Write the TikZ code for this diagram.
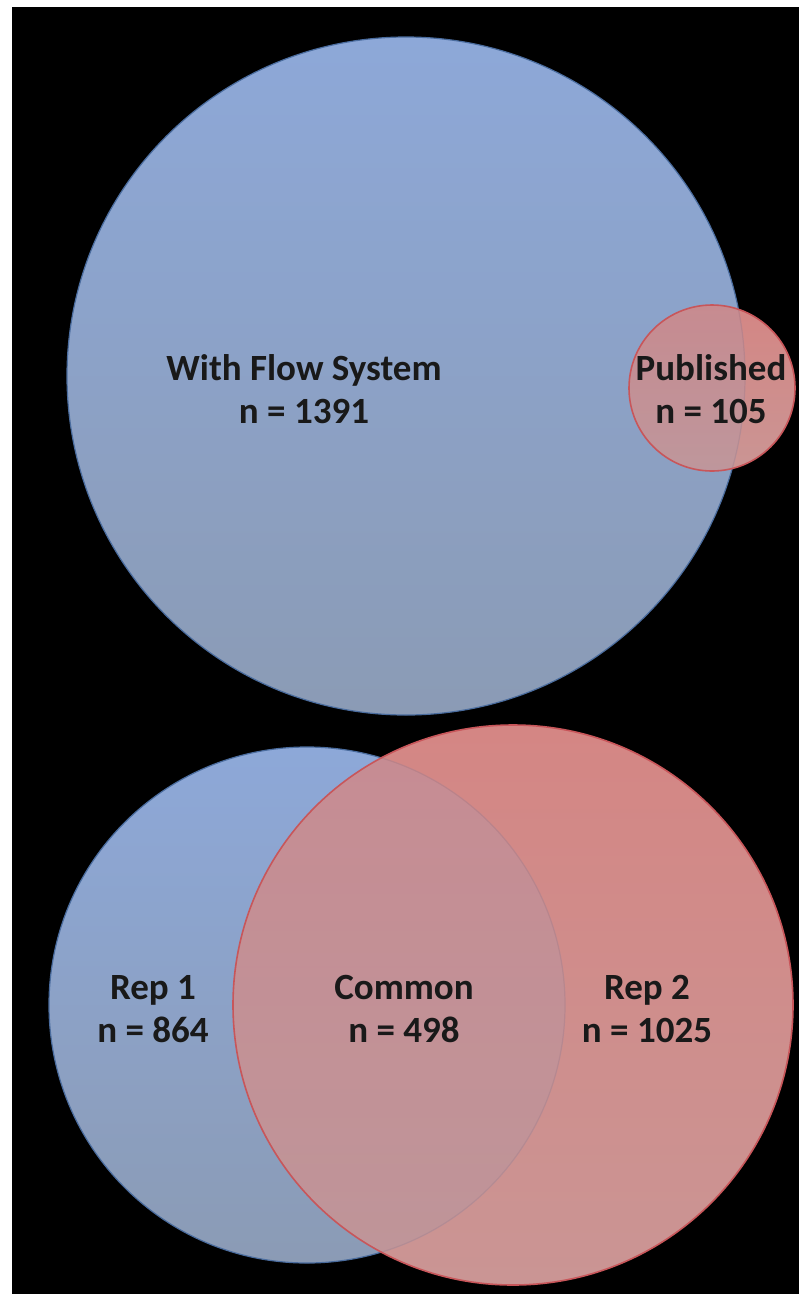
\documentclass[tikz,border=0pt]{standalone}
\usepackage{fontspec}
\setmainfont{Carlito}
\definecolor{bluetop}{HTML}{8DA8D8}
\definecolor{bluebot}{HTML}{8B9BB5}
\definecolor{bluerim}{HTML}{4A6C9E}
\definecolor{redtop}{HTML}{D48684}
\definecolor{redbot}{HTML}{CA9594}
\definecolor{redrim}{HTML}{C8565A}

\begin{document}
\begin{tikzpicture}[x=1pt,y=-1pt,
    blueset/.style={circle,draw=bluerim,line width=1.2pt,top color=bluetop,bottom color=bluebot,inner sep=0pt},
    redbase/.style={circle,top color=redtop,bottom color=redbot,inner sep=0pt},
    redset/.style={circle,draw=redrim,line width=1.6pt,top color=redtop,bottom color=redbot,fill opacity=0.82,inner sep=0pt},
    setlabel/.style={font=\fontsize{37}{43}\selectfont\bfseries,align=center,text=black!90}]
  % page
  \useasboundingbox (0,0) rectangle (799,1294);
  \fill[white] (0,0) rectangle (799,1294);
  \fill[black] (12,7) rectangle (799,1294);
  % opaque red under the blue sets
  \node[redbase,minimum size=166pt] (pubbase) at (712,388) {};
  \node[redbase,minimum size=560pt] (rep2base) at (513,1005) {};
  % upper sets
  \node[blueset,minimum size=678pt] (flow) at (406,376) {};
  \node[redset,minimum size=166pt] (pub) at (712,388) {};
  % lower sets
  \node[blueset,minimum size=516pt] (rep1) at (307,1005) {};
  \node[redset,minimum size=560pt] (rep2) at (513,1005) {};
  % labels
  \node[setlabel] (flowlbl) at (304,389) {With Flow System\\n = 1391};
  \node[setlabel] (publbl) at (711,389) {Published\\n = 105};
  \node[setlabel] (rep1lbl) at (153,1009) {Rep 1\\n = 864};
  \node[setlabel] (commonlbl) at (404,1009) {Common\\n = 498};
  \node[setlabel] (rep2lbl) at (647,1009) {Rep 2\\n = 1025};
\end{tikzpicture}
\end{document}
